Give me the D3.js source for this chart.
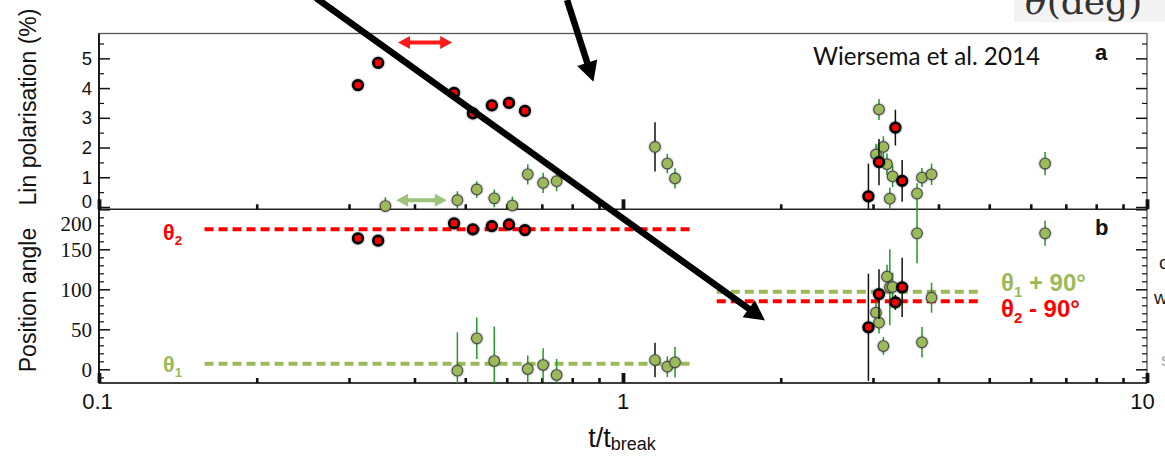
<!DOCTYPE html>
<html>
<head>
<meta charset="utf-8">
<script src="https://cdn.jsdelivr.net/npm/d3@7"></script>
<style>
  body { margin: 0; background: #fff; }
  svg { display: block; }
</style>
</head>
<body>
<svg id="chart" width="1165" height="461"></svg>
<script>
// ---------- data ----------
// time in units of the break time
const redT     = [0.312, 0.341, 0.476, 0.517, 0.562, 0.606, 0.650, 2.94, 3.08, 3.31, 3.41];
const redPol   = [4.10, 4.85, 3.84, 3.15, 3.42, 3.50, 3.23, 0.36, 1.51, 2.67, 0.88];
const redPolErr= [0, 0, 0, 0, 0, 0, 0, 1.1, 0.78, 0.6, 0.7];
const redAng   = [163.7, 160.8, 182.5, 175, 179, 181, 174, 52.5, 94, 83.7, 102.5];
const redAngErr= [0, 0, 0, 0, 0, 0, 0, 67, 31, 9.4, 37];

const greenPolT  = [0.352, 0.483, 0.526, 0.568, 0.615, 0.658, 0.704, 0.747, 1.151, 1.215, 1.257,
                    3.04, 3.08, 3.14, 3.19, 3.23, 3.27, 3.64, 3.72, 3.88, 6.39];
const greenPol   = [0.03, 0.23, 0.59, 0.29, 0.05, 1.10, 0.81, 0.87, 2.02, 1.46, 0.96,
                    1.77, 3.28, 2.02, 1.44, 0.28, 1.03, 0.45, 0.99, 1.10, 1.46];
const greenPolErr= [0.3, 0.3, 0.28, 0.3, 0.3, 0.34, 0.34, 0.34, 0.83, 0.33, 0.34,
                    0.36, 0.35, 0.36, 0.36, 0.37, 0.36, 0.35, 0.32, 0.36, 0.39];

const greenAngT  = [0.483, 0.526, 0.568, 0.658, 0.704, 0.747, 1.151, 1.215, 1.257,
                    3.04, 3.08, 3.14, 3.19, 3.23, 3.27, 3.64, 3.72, 3.88, 6.39];
const greenAng   = [-1.7, 38.75, 10.4, 0.4, 5.4, -7.1, 11.6, 3.3, 8.75,
                    70.8, 58.3, 29.1, 115.8, 102.5, 103, 170, 33.75, 89.5, 170];
const greenAngErr= [48, 26, 43, 17, 21, 20, 21.6, 13, 19,
                    13.5, 13.5, 11, 15, 47.5, 17.7, 37.5, 19, 18.75, 15.6];
// epoch taken with a different instrument (black error bars)
const blackBarT = [1.151];

// position-angle reference levels (deg) and the time spans they cover
const theta1 = 7;
const theta2 = 175;
const earlySpan = [0.159, 1.37];
const lateSpan  = [1.51, 4.76];

// spans marked with double-headed arrows: [tStart, tEnd, level]
const redSpanArrow   = [0.372, 0.472, 5.53];
const greenSpanArrow = [0.369, 0.461, 0.226];

// annotation arrows, [t, polarisation-axis units]
const pointerArrows = [
  { from: [0.2596, 7.03], to: [1.866, -3.817] },
  { from: [0.782, 6.964], to: [0.878, 4.21] }
];

// ticks
const timeTicks      = [0.1, 1, 10];
const timeTickLabels = ["0.1", "1", "10"];
const timeMinor      = [0.2, 0.3, 0.4, 0.5, 0.6, 0.7, 0.8, 0.9, 2, 3, 4, 5, 6, 7, 8, 9];
const polTicks  = [0, 1, 2, 3, 4, 5];
const polMinor  = [0.5, 1.5, 2.5, 3.5, 4.5, 5.5];
const angTicks  = [0, 50, 100, 150, 200];
const angMinor  = d3.range(-10, 200, 10).filter(v => v % 50 !== 0);

// ---------- layout ----------
const X0 = 99, X1 = 1147;
const topA = 33.5, botA = 209.3, botB = 383;

const x  = d3.scaleLog().domain([0.1, 10]).range([X0, X1]);
const yA = d3.scaleLinear().domain([-0.0775, 5.836]).range([botA, topA]);
const yB = d3.scaleLinear().domain([-17.1, 200]).range([botB, botA]);

const RED = "#ff0000", GREEN_FILL = "#9bbb59", GREEN_BAR = "#239a2a", GREEN_TXT = "#9bbb59";
const SANS = "'Liberation Sans', Arial, sans-serif";
const SERIF = "'Liberation Serif', 'Times New Roman', serif";

const svg = d3.select("#chart");
const defs = svg.append("defs");
const halo = defs.append("filter").attr("id", "halo")
  .attr("x", "-60%").attr("y", "-60%").attr("width", "220%").attr("height", "220%");
halo.append("feGaussianBlur").attr("in", "SourceAlpha").attr("stdDeviation", 1.1).attr("result", "b");
halo.append("feComponentTransfer").attr("in", "b").attr("result", "c")
  .append("feFuncA").attr("type", "linear").attr("slope", 0.5);
const hm = halo.append("feMerge");
hm.append("feMergeNode").attr("in", "c");
hm.append("feMergeNode").attr("in", "SourceGraphic");

// corner annotation box
svg.append("rect").attr("x", 1014).attr("y", 0).attr("width", 151).attr("height", 22).attr("fill", "#f3f3f3");
const degTxt = svg.append("text").attr("x", 1025).attr("y", 14)
  .attr("font-family", "'DejaVu Serif', serif").attr("font-size", 36).attr("fill", "#333");
degTxt.append("tspan").attr("font-style", "italic").text("θ");
degTxt.append("tspan").text("(deg)");

// ---------- frame ----------
svg.append("rect").attr("x", X0).attr("y", topA).attr("width", X1 - X0).attr("height", botB - topA)
  .attr("fill", "none").attr("stroke", "#555").attr("stroke-width", 1.3);
svg.append("line").attr("x1", X0).attr("x2", X0).attr("y1", topA).attr("y2", botB)
  .attr("stroke", "#111").attr("stroke-width", 1.8);
svg.append("line").attr("x1", X0).attr("x2", X1).attr("y1", botA).attr("y2", botA)
  .attr("stroke", "#222").attr("stroke-width", 1.6);
svg.append("line").attr("x1", X0).attr("x2", X1).attr("y1", botB).attr("y2", botB)
  .attr("stroke", "#222").attr("stroke-width", 1.6);

// ---------- axes ----------
function styleAxis(g, w) {
  g.select(".domain").remove();
  g.selectAll(".tick line").attr("stroke", "#111").attr("stroke-width", w);
}

// y axes, ticks pointing inward on both sides
function yTicks(scale, major, minor) {
  svg.append("g").attr("transform", `translate(${X0},0)`)
    .call(d3.axisLeft(scale).tickValues(minor).tickSize(-5).tickFormat(""))
    .call(g => styleAxis(g, 1.2));
  svg.append("g").attr("transform", `translate(${X1},0)`)
    .call(d3.axisRight(scale).tickValues(minor).tickSize(-5).tickFormat(""))
    .call(g => styleAxis(g, 1.2));
  svg.append("g").attr("transform", `translate(${X1},0)`)
    .call(d3.axisRight(scale).tickValues(major).tickSize(-11).tickFormat(""))
    .call(g => styleAxis(g, 1.5));
  return svg.append("g").attr("transform", `translate(${X0},0)`)
    .call(d3.axisLeft(scale).tickValues(major).tickSize(-11).tickPadding(7).tickFormat(d3.format("d")))
    .call(g => styleAxis(g, 1.5));
}
const axA = yTicks(yA, polTicks, polMinor);
axA.selectAll("text").attr("font-family", SANS).attr("font-size", 18.5).attr("fill", "#111");
axA.selectAll(".tick").filter(d => d === 0).select("text").attr("y", -5);

const axB = yTicks(yB, angTicks, angMinor);
axB.selectAll("text").attr("font-family", SERIF).attr("font-size", 21).attr("fill", "#111");
axB.selectAll(".tick").filter(d => d === 200).select("text").attr("y", 14.5);

// x ticks at the bottom of both panels
[botA, botB].forEach(yy => {
  svg.append("g").attr("transform", `translate(0,${yy})`)
    .call(d3.axisBottom(x).tickValues(timeMinor).tickSize(-5).tickFormat(""))
    .call(g => styleAxis(g, 2.6));
  svg.append("g").attr("transform", `translate(0,${yy})`)
    .call(d3.axisBottom(x).tickValues(timeTicks).tickSize(-10).tickFormat(""))
    .call(g => styleAxis(g, 3.8));
});
svg.append("g").selectAll("text").data(timeTicks).join("text")
  .attr("x", (d, i) => x(d) + (i === 0 ? -1.5 : i === timeTicks.length - 1 ? -4.5 : 0))
  .attr("y", 409)
  .attr("text-anchor", "middle")
  .attr("font-family", SANS).attr("font-size", 22).attr("fill", "#111")
  .text((d, i) => timeTickLabels[i]);

// axis titles
const xt = svg.append("text").attr("x", x(1) - 1).attr("y", 447).attr("text-anchor", "middle")
  .attr("font-family", SANS).attr("font-size", 27).attr("fill", "#111");
xt.append("tspan").text("t/t");
xt.append("tspan").attr("font-size", 18).attr("dy", 3).text("break");

svg.append("text").attr("transform", "translate(36,107) rotate(-90)").attr("text-anchor", "middle")
  .attr("font-family", SANS).attr("font-size", 23).attr("fill", "#111").text("Lin polarisation (%)");
svg.append("text").attr("transform", "translate(36,300) rotate(-90)").attr("text-anchor", "middle")
  .attr("font-family", SANS).attr("font-size", 23).attr("fill", "#111").text("Position angle");

// panel letters and citation
svg.append("text").attr("x", 1095).attr("y", 60).attr("font-family", SANS).attr("font-weight", "bold")
  .attr("font-size", 22).attr("fill", "#111").text("a");
svg.append("text").attr("x", 1095).attr("y", 235).attr("font-family", SANS).attr("font-weight", "bold")
  .attr("font-size", 22).attr("fill", "#111").text("b");
svg.append("text").attr("x", 813).attr("y", 65).attr("font-family", "Lato, 'Open Sans', sans-serif")
  .attr("font-size", 25).attr("textLength", 227).attr("lengthAdjust", "spacingAndGlyphs")
  .attr("fill", "#111").text("Wiersema et al. 2014");

// ---------- reference levels ----------
const dashG = svg.append("g").attr("stroke-width", 4).attr("stroke-dasharray", "9,5");
const levels = [
  { span: earlySpan, v: theta2, c: RED },
  { span: earlySpan, v: theta1, c: GREEN_FILL },
  { span: lateSpan, v: theta1 + 90, c: GREEN_FILL },
  { span: lateSpan, v: theta2 - 90, c: RED }
];
dashG.selectAll("line").data(levels).join("line")
  .attr("x1", d => x(d.span[0])).attr("x2", d => x(d.span[1]))
  .attr("y1", d => yB(d.v)).attr("y2", d => yB(d.v))
  .attr("stroke", d => d.c);

function thetaLabel(xp, yp, sub, rest, color, size) {
  const t = svg.append("text").attr("x", xp).attr("y", yp).attr("font-family", SANS)
    .attr("font-weight", "bold").attr("font-size", size).attr("fill", color);
  t.append("tspan").text("θ");
  t.append("tspan").attr("font-size", size * 0.62).attr("dy", size * 0.25).text(sub);
  if (rest) t.append("tspan").attr("dy", -size * 0.25).text(rest);
}
thetaLabel(163, 240, "2", null, RED, 21.5);
thetaLabel(163, 372, "1", null, GREEN_TXT, 21.5);
thetaLabel(1001, 291, "1", " + 90°", GREEN_TXT, 24);
thetaLabel(1001, 316.5, "2", " - 90°", RED, 24);

// ---------- error bars and markers ----------
function bars(ts, vs, es, yS, colorFn) {
  const lo = yS.domain()[0];
  svg.append("g").selectAll("line").data(ts.map((t, i) => ({ t, v: vs[i], e: es[i] })).filter(d => d.e > 0))
    .join("line")
    .attr("x1", d => x(d.t)).attr("x2", d => x(d.t))
    .attr("y1", d => yS(d.v + d.e)).attr("y2", d => yS(Math.max(d.v - d.e, lo)))
    .attr("stroke", colorFn).attr("stroke-width", 1.5);
}
function greenDots(ts, vs, yS) {
  svg.append("g").selectAll("circle").data(ts.map((t, i) => ({ t, v: vs[i] }))).join("circle")
    .attr("cx", d => x(d.t)).attr("cy", d => yS(d.v)).attr("r", 5.3)
    .attr("fill", GREEN_FILL).attr("stroke", "#4a4a4a").attr("stroke-width", 1.1)
    .attr("filter", "url(#halo)");
}
function redDots(ts, vs, yS) {
  svg.append("g").selectAll("circle").data(ts.map((t, i) => ({ t, v: vs[i] }))).join("circle")
    .attr("cx", d => x(d.t)).attr("cy", d => yS(d.v)).attr("r", 4.8)
    .attr("fill", RED).attr("stroke", "#000").attr("stroke-width", 2.7)
    .attr("filter", "url(#halo)");
}
const gBarColor = d => blackBarT.includes(d.t) ? "#111" : GREEN_BAR;

bars(greenPolT, greenPol, greenPolErr, yA, gBarColor);
bars(greenAngT, greenAng, greenAngErr, yB, gBarColor);
greenDots(greenPolT, greenPol, yA);
greenDots(greenAngT, greenAng, yB);
bars(redT, redPol, redPolErr, yA, () => "#111");
bars(redT, redAng, redAngErr, yB, () => "#111");
redDots(redT, redPol, yA);
redDots(redT, redAng, yB);

// ---------- double-headed span arrows ----------
function spanArrow(s, color) {
  const x1 = x(s[0]), x2 = x(s[1]), yy = yA(s[2]);
  const hl = 12, hw = 6.5, sw = 2;
  svg.append("path")
    .attr("d", `M${x1},${yy} L${x1 + hl},${yy - hw} L${x1 + hl},${yy - sw} L${x2 - hl},${yy - sw}
                L${x2 - hl},${yy - hw} L${x2},${yy} L${x2 - hl},${yy + hw} L${x2 - hl},${yy + sw}
                L${x1 + hl},${yy + sw} L${x1 + hl},${yy + hw} Z`)
    .attr("fill", color);
}
spanArrow(redSpanArrow, "#ff1a1a");
spanArrow(greenSpanArrow, "#9cc47c");

// ---------- pointer arrows ----------
pointerArrows.forEach(a => {
  const x0 = x(a.from[0]), y0 = yA(a.from[1]);
  const x1 = x(a.to[0]), y1 = yA(a.to[1]);
  const len = Math.hypot(x1 - x0, y1 - y0);
  const ux = (x1 - x0) / len, uy = (y1 - y0) / len;
  const hl = 20, hw = 10.5;
  const bx = x1 - ux * hl, by = y1 - uy * hl;
  svg.append("line").attr("x1", x0).attr("y1", y0).attr("x2", bx + ux * 2).attr("y2", by + uy * 2)
    .attr("stroke", "#000").attr("stroke-width", 6.5);
  svg.append("path")
    .attr("d", `M${x1},${y1} L${bx - uy * hw},${by + ux * hw} L${bx + uy * hw},${by - ux * hw} Z`)
    .attr("fill", "#000");
});

// text running off the right edge
svg.append("text").attr("x", 1159).attr("y", 269).attr("font-family", SANS).attr("font-size", 19)
  .attr("fill", "#222").text("c");
svg.append("text").attr("x", 1154).attr("y", 304).attr("font-family", SANS).attr("font-size", 19)
  .attr("fill", "#222").text("w");
svg.append("text").attr("x", 1161).attr("y", 366).attr("font-family", SANS).attr("font-size", 19)
  .attr("fill", "#aaa").text("s");
</script>
</body>
</html>
